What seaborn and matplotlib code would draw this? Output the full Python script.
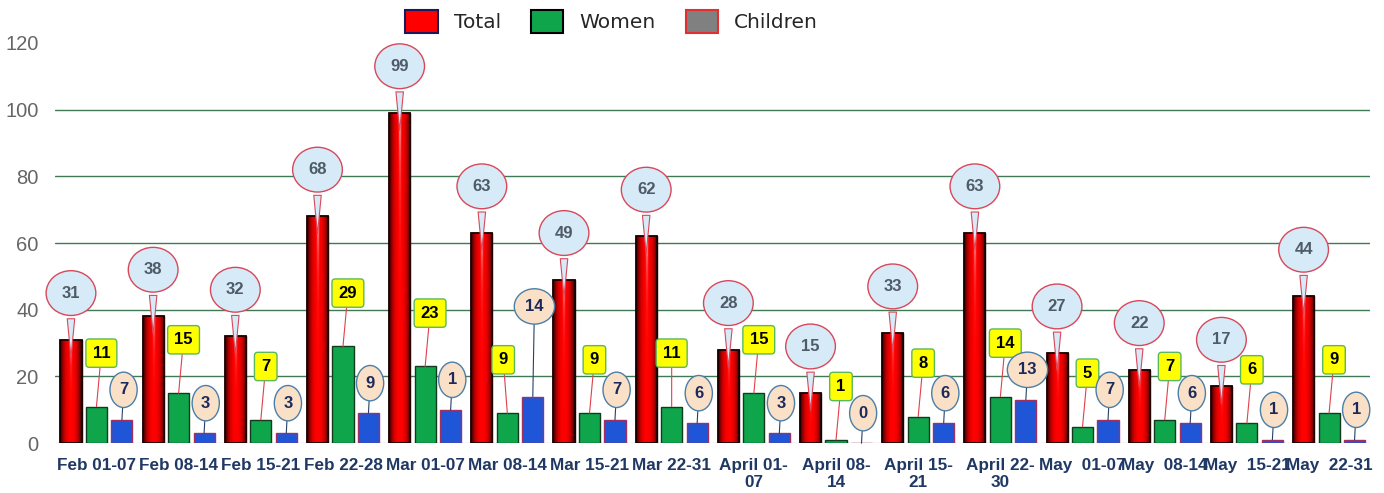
import numpy as np
import pandas as pd
import seaborn as sns
import matplotlib.pyplot as plt
from matplotlib.patches import Patch

# weekly counts
weeks = ["Feb 01-07", "Feb 08-14", "Feb 15-21", "Feb 22-28", "Mar 01-07",
         "Mar 08-14", "Mar 15-21", "Mar 22-31", "April 01-\n07", "April 08-\n14",
         "April 15-\n21", "April 22-\n30", "May  01-07", "May  08-14",
         "May  15-21", "May  22-31"]
total = [31, 38, 32, 68, 99, 63, 49, 62, 28, 15, 33, 63, 27, 22, 17, 44]
women = [11, 15, 7, 29, 23, 9, 9, 11, 15, 1, 8, 14, 5, 7, 6, 9]
children = [7, 3, 3, 9, 10, 14, 7, 6, 3, 0, 6, 13, 7, 6, 1, 1]
# the callout of Mar 01-07 shows only "1" in the original
children_labels = ["7", "3", "3", "9", "1", "14", "7", "6", "3", "0", "6", "13",
                   "7", "6", "1", "1"]
series = ["Total", "Women", "Children"]

df = pd.DataFrame({
    "week": weeks * 3,
    "series": [s for s in series for _ in weeks],
    "value": total + women + children,
})

RED, GREEN, BLUE = "#ff0000", "#0fa64b", "#1f56d8"

sns.set_style("white")
plt.rcParams["font.family"] = ["Liberation Sans", "DejaVu Sans"]

fig, ax = plt.subplots(figsize=(13.84, 4.93), dpi=100)
fig.subplots_adjust(left=0.04, right=0.99, bottom=0.101, top=0.913)

sns.barplot(data=df, x="week", y="value", hue="series", hue_order=series,
            palette=[RED, GREEN, BLUE], width=0.93, gap=0.17, saturation=1,
            legend=False, ax=ax)

edges = ["#1a0000", "#123a1f", "#a03060"]
for cont, ec in zip(ax.containers, edges):
    for p in cont:
        p.set_edgecolor(ec)
        p.set_linewidth(1.0)

# shaded look of the red bars
u = np.linspace(-1, 1, 40)
t = np.linspace(0, 1, 120)[:, None]
base = 1 - 0.85 * np.abs(u) ** 2.5
hl = np.exp(-(u / 0.09) ** 2) * np.exp(-t / 0.15)
img = np.zeros((120, 40, 3))
img[..., 0] = np.clip(base + hl, 0, 1)
img[..., 1] = np.clip(hl * 0.95, 0, 1)
img[..., 2] = np.clip(hl * 0.95, 0, 1)
for p in ax.containers[0]:
    x, y, w, h = p.get_x(), p.get_y(), p.get_width(), p.get_height()
    im = ax.imshow(img, extent=[x, x + w, y, y + h], aspect="auto",
                   origin="upper", zorder=p.get_zorder() + 0.1)
    im.set_clip_path(p)
    ax.add_patch(plt.Rectangle((x, y), w, h, fill=False, ec="#1a0000",
                               lw=1.3, zorder=p.get_zorder() + 0.2))

ax.set_xlim(-0.5, len(weeks) - 0.5)
ax.set_ylim(0, 120)
ax.set_yticks(range(0, 121, 20))
ax.yaxis.grid(True, color="#3f7a55", lw=1)
ax.set_axisbelow(True)
gl = ax.get_ygridlines()
gl[0].set_color("#d0d0d0")
gl[-1].set_visible(False)
sns.despine(ax=ax, left=True, bottom=True, top=True, right=True)
ax.tick_params(length=0)
ax.set_xlabel("")
ax.set_ylabel("")
for lab in ax.get_yticklabels():
    lab.set_fontsize(14.5)
    lab.set_color("#666666")
ax.tick_params(axis="y", pad=12)
ax.tick_params(axis="x", pad=11)
for lab in ax.get_xticklabels():
    lab.set_fontsize(12.3)
    lab.set_fontweight("bold")
    lab.set_color("#1f3864")
    lab.set_linespacing(1.15)

# callouts
for p, v in zip(ax.containers[0], total):
    xc = p.get_x() + p.get_width() / 2
    ax.annotate(str(v), xy=(xc, v - 6), xytext=(xc, v + 14), ha="center",
                va="center", fontsize=12, fontweight="bold", color="#4f5b66",
                bbox=dict(boxstyle="ellipse,pad=0.5", fc="#d7eaf8", ec="#d8485a", lw=1),
                arrowprops=dict(arrowstyle="wedge,tail_width=0.45,shrink_factor=0.5",
                                fc="#d7eaf8", ec="#d8485a", lw=0.8),
                zorder=5)

women_dx = {5: -0.05, 7: 0.0}
for i, (p, v) in enumerate(zip(ax.containers[1], women)):
    xc = p.get_x() + p.get_width() / 2
    ax.annotate(str(v), xy=(xc, v), xytext=(xc + women_dx.get(i, 0.06), v + 16),
                ha="center", va="center", fontsize=12, fontweight="bold",
                color="black",
                bbox=dict(boxstyle="round,pad=0.4,rounding_size=0.2",
                          fc="#ffff00", ec="#5cb85c", lw=1),
                arrowprops=dict(arrowstyle="-", color="#e0404a", lw=0.8,
                                shrinkA=0, shrinkB=0),
                zorder=5)

children_dy = {5: 27}
for i, (p, v, s) in enumerate(zip(ax.containers[2], children, children_labels)):
    xc = p.get_x() + p.get_width() / 2
    ax.annotate(s, xy=(xc, v), xytext=(xc + 0.02, v + children_dy.get(i, 9)),
                ha="center", va="center", fontsize=12, fontweight="bold",
                color="#1b2a5a",
                bbox=dict(boxstyle="ellipse,pad=0.3", fc="#fbe0c8", ec="#4a7fa8", lw=1),
                arrowprops=dict(arrowstyle="-", color="#27406a", lw=0.8,
                                shrinkA=0, shrinkB=0),
                zorder=5)

handles = [Patch(fc=RED, ec="#1a1a5a", lw=1.5),
           Patch(fc=GREEN, ec="black", lw=1.5),
           Patch(fc="#808080", ec="#e03030", lw=1.5)]
fig.legend(handles, series, loc="center", bbox_to_anchor=(0.442, 0.956),
           ncol=3, frameon=False, handlelength=1.6, handleheight=1.4,
           columnspacing=1.5, handletextpad=0.8,
           prop={"family": "DejaVu Sans", "size": 14.5})

fig.savefig("out.png", dpi=100)
